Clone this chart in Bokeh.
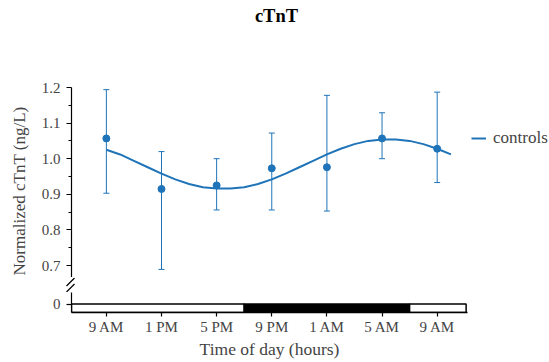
from bokeh.plotting import figure
from bokeh.models import (ColumnDataSource, Range1d, FixedTicker, PrintfTickFormatter,
                          Whisker, TeeHead, Legend, LegendItem, Title, Spacer)
from bokeh.core.properties import value
from bokeh.layouts import column, row
from bokeh.embed import file_html
from bokeh.resources import INLINE

# ---------------- data ----------------
hours = [9, 13, 17, 21, 25, 29, 33]
tick_labels = ["9 AM", "1 PM", "5 PM", "9 PM", "1 AM", "5 AM", "9 AM"]
mean_ctnt = [1.057, 0.915, 0.925, 0.973, 0.976, 1.057, 1.028]
upper_ctnt = [1.194, 1.020, 1.000, 1.072, 1.178, 1.129, 1.187]
lower_ctnt = [0.903, 0.689, 0.856, 0.856, 0.853, 1.000, 0.933]

fit_hours = [9, 10, 11, 12, 13, 14, 15, 16, 17, 18, 19, 20, 21, 22, 23, 24, 25, 26,
             27, 28, 29, 30, 31, 32, 33, 34]
fit_ctnt = [1.025, 1.012, 0.994, 0.976, 0.958, 0.942, 0.929, 0.920, 0.916, 0.916,
            0.920, 0.929, 0.942, 0.958, 0.976, 0.994, 1.012, 1.028, 1.041, 1.050,
            1.054, 1.054, 1.050, 1.041, 1.028, 1.012]

x_start, x_end = 6.47, 35.2
band_left = [x_start, 19, 31]
band_right = [19, 31, 35.1]
band_fill = ["white", "black", "white"]

y_ticks = [0.7, 0.8, 0.9, 1.0, 1.1, 1.2]
y_minor = [0.75, 0.85, 0.95, 1.05, 1.15]

chart_title = "cTnT"

FONT = "Liberation Serif"
BLUE = "#1f74b9"

x_range = Range1d(x_start, x_end)

# ---------------- header with the title (pixel-unit ranges) ----------------
header = figure(frame_width=396, frame_height=77, toolbar_location=None,
                output_backend="svg", x_axis_location=None, y_axis_location=None,
                min_border_left=70, min_border_right=83, min_border_top=0,
                min_border_bottom=0,
                x_range=Range1d(70, 466), y_range=Range1d(0, 77))
header.outline_line_color = None
header.grid.visible = False
header.title.visible = False
header.text(x=[275], y=[62], text=[chart_title], text_align="center",
            text_baseline="middle", text_font=value(FONT), text_font_size="18.5px",
            text_font_style="bold", text_color="black")

# ---------------- top panel ----------------
top = figure(frame_width=396, frame_height=190, x_range=x_range,
             y_range=Range1d(0.6663, 1.2), output_backend="svg",
             toolbar_location=None, x_axis_location=None,
             min_border_left=70, min_border_right=83, min_border_top=10,
             min_border_bottom=0)
top.outline_line_color = None
top.grid.visible = False
top.title.visible = False

fit_line = top.line(fit_hours, fit_ctnt, line_color=BLUE, line_width=2)

src = ColumnDataSource(dict(x=hours, m=mean_ctnt, up=upper_ctnt, lo=lower_ctnt))
top.add_layout(Whisker(base="x", upper="up", lower="lo", source=src,
                       line_color=BLUE, line_width=1,
                       upper_head=TeeHead(size=6, line_color=BLUE, line_width=1),
                       lower_head=TeeHead(size=6, line_color=BLUE, line_width=1)))
top.scatter("x", "m", source=src, size=7, color=BLUE)

yax = top.yaxis[0]
yax.ticker = FixedTicker(ticks=y_ticks, minor_ticks=y_minor)
yax.formatter = PrintfTickFormatter(format="%.1f")
yax.major_label_text_font = FONT
yax.major_label_text_font_size = "15px"
yax.major_label_standoff = 6
yax.major_tick_out = 5
yax.major_tick_in = 0
yax.minor_tick_out = 3
yax.minor_tick_in = 0
yax.axis_line_width = 1.2
yax.major_tick_line_width = 1.2
yax.minor_tick_line_width = 1.2

ylabel = Title(text="Normalized cTnT (ng/L)", align="left", offset=2,
               vertical_align="middle", standoff=17, text_font=FONT,
               text_font_size="17px", text_font_style="normal")
top.add_layout(ylabel, "left")

legend = Legend(items=[LegendItem(label="controls", renderers=[fit_line])],
                location=(4, 129), padding=0, margin=0, glyph_width=15,
                label_standoff=7, border_line_color=None, background_fill_alpha=0,
                label_text_font=FONT, label_text_font_size="17px")
top.add_layout(legend, "right")

# ---------------- axis-break marks ----------------
brk = figure(width=16, height=15, min_border=0, toolbar_location=None,
             output_backend="svg", x_axis_location=None, y_axis_location=None,
             x_range=Range1d(62, 78), y_range=Range1d(292, 277))
brk.outline_line_color = None
brk.grid.visible = False
brk.title.visible = False
brk.segment(x0=[66, 66], y0=[285.5, 291.5], x1=[74, 74], y1=[277.5, 283.5],
            line_color="black", line_width=1.2)

# ---------------- bottom panel (zero level, day/night bar) ----------------
bottom = figure(frame_width=396, frame_height=20, x_range=x_range,
                y_range=Range1d(-0.085, 0.115), output_backend="svg",
                toolbar_location=None, min_border_left=70, min_border_right=83,
                min_border_top=0, min_border_bottom=50)
bottom.outline_line_color = None
bottom.grid.visible = False
bottom.title.visible = False

bottom.quad(left=band_left, right=band_right, bottom=-0.085, top=0,
            fill_color=band_fill, line_color="black", line_width=1.5)

bax = bottom.yaxis[0]
bax.ticker = FixedTicker(ticks=[0], minor_ticks=[])
bax.major_label_text_font = FONT
bax.major_label_text_font_size = "15px"
bax.major_label_standoff = 6
bax.major_tick_out = 5
bax.major_tick_in = 0
bax.axis_line_width = 1.2
bax.major_tick_line_width = 1.2

xax = bottom.xaxis[0]
xax.ticker = FixedTicker(ticks=hours, minor_ticks=[])
xax.major_label_overrides = {h: t for h, t in zip(hours, tick_labels)}
xax.major_label_text_font = FONT
xax.major_label_text_font_size = "15px"
xax.major_label_standoff = 2
xax.major_tick_out = 4
xax.major_tick_in = 0
xax.axis_line_width = 1.5
xax.major_tick_line_width = 1.2
xax.axis_label = "Time of day (hours)"
xax.axis_label_text_font = FONT
xax.axis_label_text_font_size = "17.5px"
xax.axis_label_text_font_style = "normal"
xax.axis_label_standoff = 1

layout = column(header, top, row(Spacer(width=62, height=15), brk, spacing=0),
                bottom, spacing=0)
open("out.html", "w").write(file_html(layout, INLINE))
